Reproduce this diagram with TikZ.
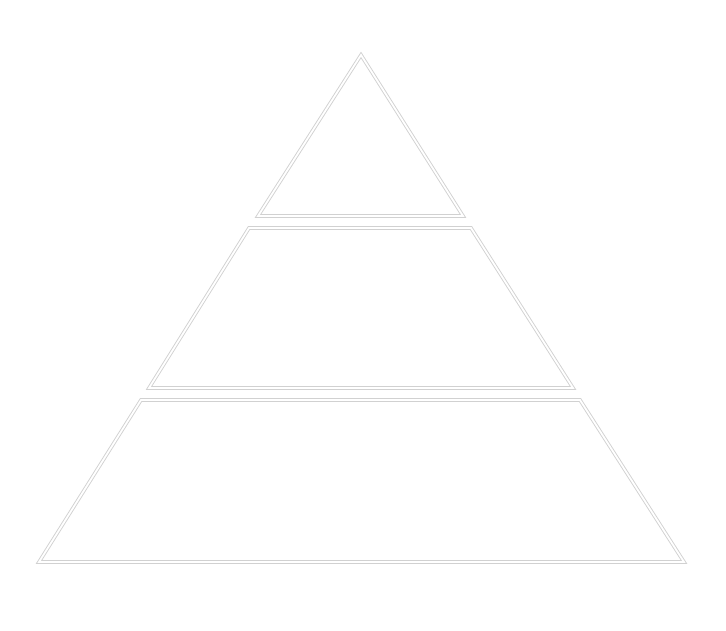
\documentclass[tikz,border=0pt]{standalone}
\begin{document}
\begin{tikzpicture}[x=1pt,y=-1pt,
  tier/.style={draw=black!18, line width=0.9pt, double=white, double distance=1.8pt, line join=miter}]
\useasboundingbox[fill=white] (0,0) rectangle (726,631);
\draw[tier] (361,55) -- (463,216) -- (258,216) -- cycle;
\draw[tier] (249,228) -- (471,228) -- (573,388) -- (149,388) -- cycle;
\draw[tier] (141,400) -- (580,400) -- (684,562) -- (39,562) -- cycle;
\end{tikzpicture}
\end{document}
